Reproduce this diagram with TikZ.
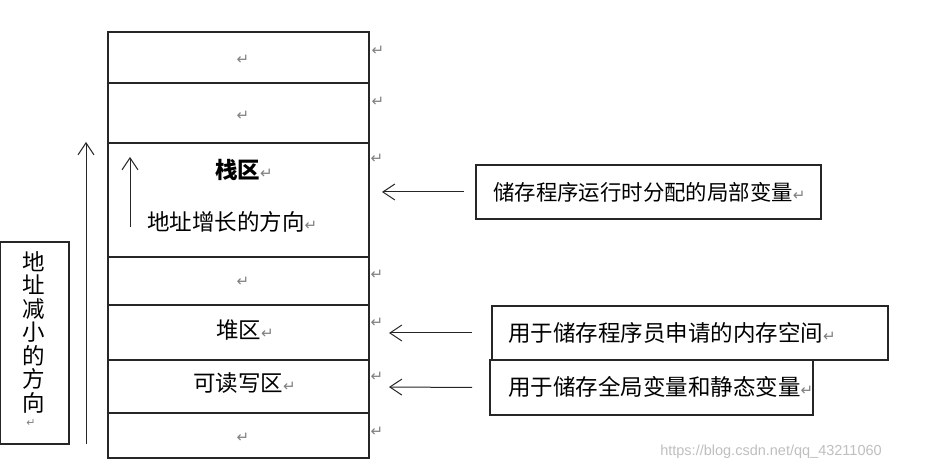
\documentclass[tikz,border=0pt]{standalone}
\usepackage{fontspec}
\setmainfont{Noto Sans CJK SC}
\newfontfamily\markfont{DejaVu Sans}
\newfontfamily\wmfont{Liberation Sans}
\usetikzlibrary{arrows.meta}
\newcommand{\pmark}{{\color{black!50}\markfont\fontsize{15}{15}\selectfont ↵}}
\begin{document}
\begin{tikzpicture}[x=1pt,y=-1pt,
  cell/.style={draw=black!85,line width=1.2pt,minimum width=261pt,inner sep=0pt,outer sep=0pt},
  lbl/.style={font=\fontsize{22.5}{24}\selectfont,inner sep=0pt,anchor=west},
  pm/.style={text=black!50,font=\markfont\fontsize{15}{15}\selectfont,inner sep=0pt},
  arr/.style={draw=black!85,line width=1pt,-{Straight Barb[length=12pt,width=16pt,line width=1pt]}},
  nbox/.style={draw=black!85,line width=1.2pt,inner sep=0pt,outer sep=0pt,anchor=north west}
]
\useasboundingbox (0,0) rectangle (938,470);
\fill[white] (0,0) rectangle (938,470);
% memory column
\node[cell,minimum height=51pt]  (c1) at (238.5,57.5) {};
\node[cell,minimum height=60pt]  (c2) at (238.5,113) {};
\node[cell,minimum height=114pt] (c3) at (238.5,200) {};
\node[cell,minimum height=48pt]  (c4) at (238.5,281) {};
\node[cell,minimum height=55pt]  (c5) at (238.5,332.5) {};
\node[cell,minimum height=53pt]  (c6) at (238.5,386.5) {};
\node[cell,minimum height=45pt]  (c7) at (238.5,435.5) {};
% cell texts
\node[pm] (m1) at (243,60) {↵};
\node[pm] (m2) at (243,116) {↵};
\node[pm] (m4) at (243,282) {↵};
\node[pm] (m7) at (243,438) {↵};
\node[lbl,font=\fontsize{22.5}{24}\selectfont\bfseries] (stack) at (215,170) {栈区{\mdseries\pmark}};
\node[lbl] (grow) at (147,222) {地址增长的方向\pmark};
\node[lbl] (heap) at (216,330) {堆区\pmark};
\node[lbl] (rw) at (193,383) {可读写区\pmark};
% right-side paragraph marks
\node[pm] (r1) at (378,51) {↵};
\node[pm] (r2) at (378,102) {↵};
\node[pm] (r3) at (377,159) {↵};
\node[pm] (r4) at (377,275) {↵};
\node[pm] (r5) at (377,323) {↵};
\node[pm] (r6) at (377,377) {↵};
\node[pm] (r7) at (377,432) {↵};
% inner arrow
\coordinate (ia0) at (130,227);
\coordinate (ia1) at (130,157);
\draw[arr] (ia0) -- (ia1);
% left box and arrow
\node[nbox,minimum width=69pt,minimum height=202pt] (lb) at (0,242) {};
\node[anchor=north,inner sep=0pt,align=center,font=\fontsize{22.5}{23.5}\selectfont] (lt) at (34,251) {地\\址\\减\\小\\的\\方\\向};
\node[pm,font=\markfont\fontsize{11}{11}\selectfont] (lm) at (31,423) {↵};
\coordinate (la0) at (86,444);
\coordinate (la1) at (86,142);
\draw[arr] (la0) -- (la1);
% right boxes
\node[nbox,minimum width=345pt,minimum height=54pt] (b1) at (476,165) {};
\node[lbl,font=\fontsize{21.4}{23}\selectfont] (t1) at (493,192) {储存程序运行时分配的局部变量\pmark};
\node[nbox,minimum width=396pt,minimum height=54pt] (b2) at (492,306) {};
\node[lbl] (t2) at (508,333) {用于储存程序员申请的内存空间\pmark};
\node[nbox,minimum width=323pt,minimum height=55pt] (b3) at (490,360) {};
\node[lbl] (t3) at (508,387) {用于储存全局变量和静态变量\pmark};
% arrows to column
\coordinate (a1) at (382,192);
\coordinate (a2) at (389,333);
\coordinate (a3) at (389,387);
\draw[arr] ([xshift=-12pt]b1.west) -- (a1);
\draw[arr] ([xshift=-20pt]b2.west) -- (a2);
\draw[arr] ([xshift=-18pt]b3.west) -- (a3);
% watermark
\node[text=black!25,font=\wmfont\fontsize{14.5}{14.5}\selectfont,inner sep=0pt] (wm) at (771,452) {https://blog.csdn.net/qq\_43211060};
\end{tikzpicture}
\end{document}
